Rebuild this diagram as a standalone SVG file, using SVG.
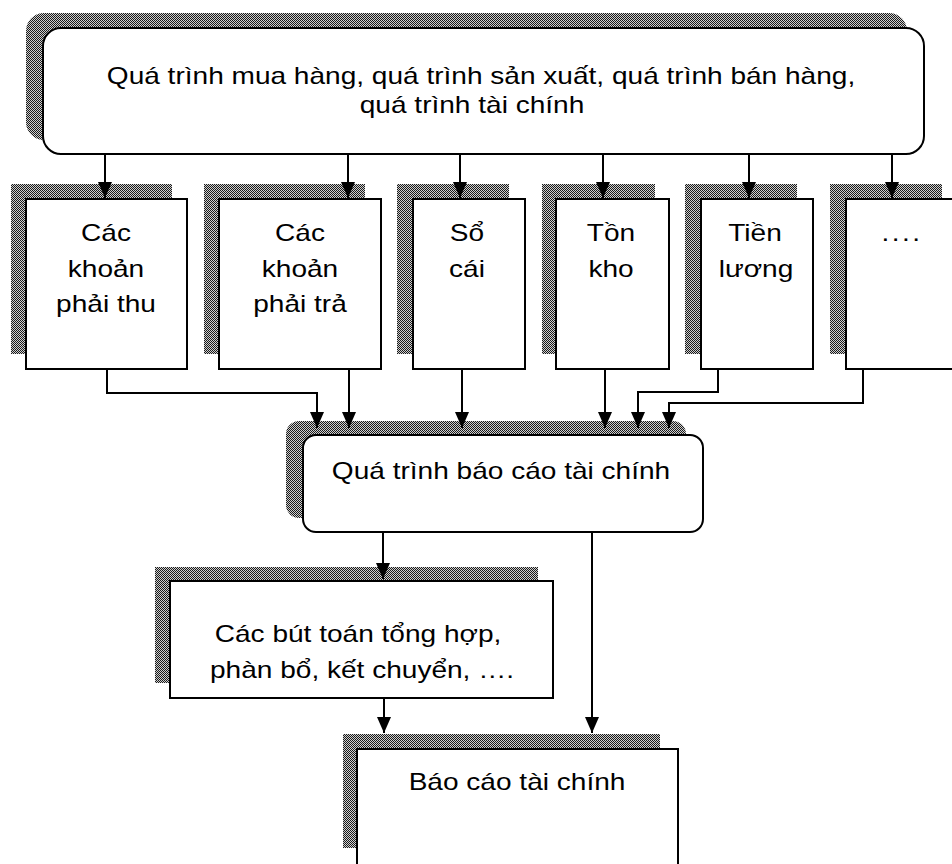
<svg xmlns="http://www.w3.org/2000/svg" width="952" height="864" viewBox="0 0 952 864">
<style>
.box{fill:#ffffff;stroke:#000000;stroke-width:2}
.shadow{fill:url(#dither)}
.lbl{font-family:"Liberation Sans",Arial,sans-serif;font-size:23px;fill:#000000;text-anchor:middle}
.con{fill:none;stroke:#000000;stroke-width:2;marker-end:url(#arrow)}
</style>
<defs>
<pattern id="dither" x="0" y="0" width="2" height="2" patternUnits="userSpaceOnUse">
<rect x="0" y="0" width="2" height="2" fill="#cfcfcf"/>
<rect x="0" y="0" width="1" height="1" fill="#1a1a1a"/>
<rect x="1" y="1" width="1" height="1" fill="#1a1a1a"/>
</pattern>
<marker id="arrow" viewBox="0 0 14 16" refX="7" refY="16" markerWidth="14" markerHeight="16" markerUnits="userSpaceOnUse" orient="0">
<path d="M0,0 L14,0 L7,16 z" fill="#000000"/>
</marker>
</defs>
<rect width="952" height="864" fill="#ffffff"/>

<g id="top">
<rect class="shadow" x="26" y="13" width="881" height="127" rx="18"/>
<rect class="box" x="43" y="28" width="881" height="126" rx="18"/>
<text class="lbl" transform="translate(481,84) scale(1.22,1)">Quá trình mua hàng, quá trình sản xuất, quá trình bán hàng,</text>
<text class="lbl" transform="translate(472,113) scale(1.22,1)">quá trình tài chính</text>
</g>

<g id="phai-thu">
<rect class="shadow" x="11" y="184" width="161" height="170"/>
<rect class="box" x="26" y="199" width="161" height="170"/>
<text class="lbl" transform="translate(106,241) scale(1.22,1)">Các</text>
<text class="lbl" transform="translate(106,277) scale(1.22,1)">khoản</text>
<text class="lbl" transform="translate(106,312) scale(1.22,1)">phải thu</text>
</g>

<g id="phai-tra">
<rect class="shadow" x="204" y="184" width="161" height="170"/>
<rect class="box" x="219" y="199" width="162" height="170"/>
<text class="lbl" transform="translate(300,241) scale(1.22,1)">Các</text>
<text class="lbl" transform="translate(300,277) scale(1.22,1)">khoản</text>
<text class="lbl" transform="translate(300,312) scale(1.22,1)">phải trả</text>
</g>

<g id="so-cai">
<rect class="shadow" x="397" y="184" width="112" height="170"/>
<rect class="box" x="413" y="199" width="112" height="170"/>
<text class="lbl" transform="translate(467,241) scale(1.22,1)">Sổ</text>
<text class="lbl" transform="translate(467,277) scale(1.22,1)">cái</text>
</g>

<g id="ton-kho">
<rect class="shadow" x="542" y="184" width="113" height="170"/>
<rect class="box" x="556" y="199" width="113" height="170"/>
<text class="lbl" transform="translate(611,241) scale(1.22,1)">Tồn</text>
<text class="lbl" transform="translate(611,277) scale(1.22,1)">kho</text>
</g>

<g id="tien-luong">
<rect class="shadow" x="685" y="184" width="112" height="170"/>
<rect class="box" x="701" y="199" width="112" height="170"/>
<text class="lbl" transform="translate(755,241) scale(1.22,1)">Tiền</text>
<text class="lbl" transform="translate(756,277) scale(1.22,1)">lương</text>
</g>

<g id="khac">
<rect class="shadow" x="830" y="184" width="112" height="170"/>
<rect class="box" x="846" y="199" width="112" height="170"/>
<text class="lbl" transform="translate(902,241) scale(1.22,1)" letter-spacing="2">....</text>
</g>

<g id="bao-cao-process">
<rect class="shadow" x="286" y="421" width="400" height="97" rx="13"/>
<rect class="box" x="303" y="435" width="400" height="97" rx="13"/>
<text class="lbl" transform="translate(501,479) scale(1.22,1)">Quá trình báo cáo tài chính</text>
</g>

<g id="but-toan">
<rect class="shadow" x="155" y="567" width="383" height="116"/>
<rect class="box" x="170" y="581" width="383" height="117"/>
<text class="lbl" transform="translate(358,642) scale(1.22,1)">Các bút toán tổng hợp,</text>
<text class="lbl" transform="translate(362,678) scale(1.22,1)">phàn bổ, kết chuyển, ….</text>
</g>

<g id="bao-cao">
<rect class="shadow" x="343" y="734" width="317" height="114"/>
<rect class="box" x="357" y="749" width="321" height="130"/>
<text class="lbl" transform="translate(517,790) scale(1.22,1)">Báo cáo tài chính</text>
</g>

<g id="connectors">
<path class="con" d="M105,154 V198"/>
<path class="con" d="M348,154 V198"/>
<path class="con" d="M460,154 V198"/>
<path class="con" d="M603,154 V198"/>
<path class="con" d="M749,154 V198"/>
<path class="con" d="M892,154 V198"/>
<path class="con" d="M107,369 V393 H317 V428"/>
<path class="con" d="M349,369 V428"/>
<path class="con" d="M462,369 V428"/>
<path class="con" d="M605,369 V428"/>
<path class="con" d="M718,369 V392 H638 V428"/>
<path class="con" d="M863,369 V403 H669 V428"/>
<path class="con" d="M383,532 V579"/>
<path class="con" d="M592,532 V733"/>
<path class="con" d="M384,698 V733"/>
</g>
</svg>
